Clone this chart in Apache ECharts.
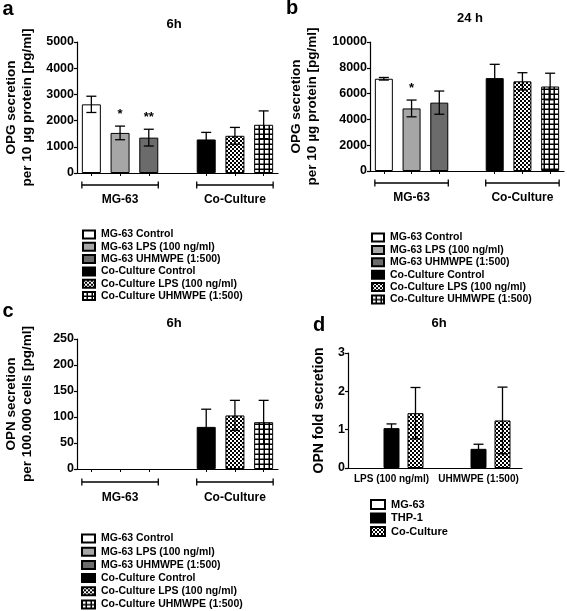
<!DOCTYPE html>
<html>
<head>
<meta charset="utf-8">
<script src="https://cdn.jsdelivr.net/npm/echarts@6/dist/echarts.min.js"></script>
<style>
html,body{margin:0;padding:0;background:#fff;}
#c{width:567px;height:611px;}
</style>
</head>
<body>
<div id="c"></div>
<script>
// ---------- data ----------
const slotCategories = ['MG-63 Control', 'MG-63 LPS (100 ng/ml)', 'MG-63 UHMWPE (1:500)', '', 'Co-Culture Control', 'Co-Culture LPS (100 ng/ml)', 'Co-Culture UHMWPE (1:500)'];
const seriesNames = ['MG-63 Control', 'MG-63 LPS (100 ng/ml)', 'MG-63 UHMWPE (1:500)', 'Co-Culture Control', 'Co-Culture LPS (100 ng/ml)', 'Co-Culture UHMWPE (1:500)'];
const groupLabels = ['MG-63', 'Co-Culture'];

const opg6hValues = [2620, 1530, 1350, 1280, 1420, 1840];
const opg6hErrors = [310, 260, 320, 270, 320, 530];
const opg6hSig = ['', '*', '**', '', '', ''];

const opg24hValues = [7150, 4850, 5300, 7200, 6950, 6550];
const opg24hErrors = [100, 650, 900, 1070, 670, 1030];
const opg24hSig = ['', '*', '', '', '', ''];

const opn6hValues = [null, null, null, 81, 103, 90];
const opn6hErrors = [0, 0, 0, 34, 29, 42];
const opn6hSig = ['', '', '', '', '', ''];

const foldCategories = ['LPS (100 ng/ml)', 'UHMWPE (1:500)'];
const foldNames = ['MG-63', 'THP-1', 'Co-Culture'];
const foldMG63 = [null, null];
const foldTHP1 = [1.04, 0.50];
const foldTHP1Err = [0.11, 0.12];
const foldCo = [1.43, 1.24];
const foldCoErr = [0.67, 0.87];

const yTicksA = {min: 0, max: 5000, interval: 1000};
const yTicksB = {min: 0, max: 10000, interval: 2000};
const yTicksC = {min: 0, max: 250, interval: 50};
const yTicksD = {min: 0, max: 3, interval: 1};

// ---------- styles ----------
const FONT = 'Liberation Sans, Arial, Helvetica, sans-serif';
function checker() {
  const c = document.createElement('canvas'); c.width = c.height = 4;
  const g = c.getContext('2d');
  g.fillStyle = '#fff'; g.fillRect(0, 0, 4, 4);
  g.fillStyle = '#000'; g.fillRect(0, 0, 2, 2); g.fillRect(2, 2, 2, 2);
  return c;
}
function gridPat() {
  const c = document.createElement('canvas'); c.width = c.height = 5;
  const g = c.getContext('2d');
  g.fillStyle = '#000'; g.fillRect(0, 0, 5, 5);
  g.fillStyle = '#fff'; g.fillRect(0, 0, 3.5, 3.5);
  return c;
}
const CHECK = {image: checker(), repeat: 'repeat'};
const GRIDP = {image: gridPat(), repeat: 'repeat'};
const fills = ['#ffffff', '#a6a6a6', '#6b6b6b', '#000000', CHECK, GRIDP];
const foldFills = ['#ffffff', '#000000', CHECK];
const slotOf = i => (i < 3 ? i : i + 1);

const chart = echarts.init(document.getElementById('c'), null, {renderer: 'canvas'});

const grids = [
  {left: 77, top: 42, width: 201, height: 131},
  {left: 370, top: 42, width: 194, height: 129},
  {left: 77, top: 339, width: 201, height: 130},
  {left: 348, top: 353, width: 174, height: 115}
];

function yAxis(gi, ticks, name, gap, fs) {
  return Object.assign({
    type: 'value', gridIndex: gi,
    axisLine: {show: true, lineStyle: {color: '#000', width: 1.2}},
    axisTick: {show: true, length: 3, lineStyle: {color: '#000', width: 1.2}},
    axisLabel: {color: '#000', fontWeight: 'bold', fontSize: 12.5, fontFamily: FONT, margin: 3, formatter: v => String(v)},
    splitLine: {show: false},
    name: name, nameLocation: 'middle', nameRotate: 90, nameGap: gap,
    nameTextStyle: {color: '#000', fontWeight: 'bold', fontSize: fs, fontFamily: FONT, lineHeight: 16, align: 'center'}
  }, ticks);
}
function slotXAxis(gi) {
  return {
    type: 'category', gridIndex: gi, data: slotCategories,
    axisLine: {show: true, lineStyle: {color: '#000', width: 1.2}},
    axisTick: {show: true, length: 3, alignWithLabel: true, interval: (idx) => idx !== 3, lineStyle: {color: '#000', width: 1}},
    axisLabel: {show: false}
  };
}

const series = [];
function addSlotPanel(gi, values, errors, sig, bw) {
  values.forEach((v, i) => {
    const data = slotCategories.map(() => '-');
    if (v !== null) data[slotOf(i)] = v;
    series.push({
      type: 'bar', name: seriesNames[i], xAxisIndex: gi, yAxisIndex: gi,
      data: data, barWidth: bw, barGap: '-100%',
      itemStyle: {color: fills[i], borderColor: '#000', borderWidth: 1},
      emphasis: {disabled: true}, animation: false
    });
  });
  const errData = [];
  values.forEach((v, i) => { if (v !== null) errData.push([slotOf(i), v, errors[i], i]); });
  series.push({
    type: 'custom', xAxisIndex: gi, yAxisIndex: gi, z: 5, animation: false,
    data: errData,
    renderItem: (params, api) => errRender(api, 0, sig[api.value(3)])
  });
}
function errRender(api, dx, sigText) {
  const x = api.value(0), v = api.value(1), e = api.value(2);
  const top = api.coord([x, v + e]);
  const bot = api.coord([x, Math.max(0, v - e)]);
  const cx = top[0] + dx, cw = 5;
  const st = {stroke: '#000', lineWidth: 1.3};
  const children = [
    {type: 'line', shape: {x1: cx, y1: bot[1], x2: cx, y2: top[1]}, style: st},
    {type: 'line', shape: {x1: cx - cw, y1: top[1], x2: cx + cw, y2: top[1]}, style: st},
    {type: 'line', shape: {x1: cx - cw, y1: bot[1], x2: cx + cw, y2: bot[1]}, style: st}
  ];
  if (sigText) {
    children.push({type: 'text', x: cx, y: top[1] - 5,
      style: {text: sigText, fill: '#000', font: 'bold 13px ' + FONT, align: 'center', verticalAlign: 'bottom'}});
  }
  return {type: 'group', children: children};
}

addSlotPanel(0, opg6hValues, opg6hErrors, opg6hSig, 19);
addSlotPanel(1, opg24hValues, opg24hErrors, opg24hSig, 18);
addSlotPanel(2, opn6hValues, opn6hErrors, opn6hSig, 19);

// panel d
const FOLD_BW = 16, FOLD_GAP = 8;
[foldMG63, foldTHP1, foldCo].forEach((vals, i) => {
  series.push({
    type: 'bar', name: foldNames[i], xAxisIndex: 3, yAxisIndex: 3,
    data: vals.map(v => (v === null ? '-' : v)), barWidth: FOLD_BW, barGap: (FOLD_GAP / FOLD_BW * 100) + '%',
    itemStyle: {color: foldFills[i], borderColor: '#000', borderWidth: 1},
    emphasis: {disabled: true}, animation: false
  });
});
[[foldTHP1, foldTHP1Err, 1], [foldCo, foldCoErr, 2]].forEach(([vals, errs, si]) => {
  const dx = (si - 1) * (FOLD_BW + FOLD_GAP);
  series.push({
    type: 'custom', xAxisIndex: 3, yAxisIndex: 3, z: 5, animation: false,
    data: vals.map((v, k) => [k, v, errs[k]]),
    renderItem: (params, api) => errRender(api, dx, '')
  });
});

function legendAt(left, top, names, gap, fs, iw, ih) {
  return {
    orient: 'vertical', left: left, top: top, data: names, selectedMode: false,
    padding: 0, height: 120,
    icon: 'rect', itemWidth: iw, itemHeight: ih, itemGap: gap,
    textStyle: {color: '#000', fontWeight: 'bold', fontSize: fs, fontFamily: FONT, padding: [0, 0, 0, 1]}
  };
}

const txt = (x, y, t, fs, align) => ({type: 'text', x: x, y: y, silent: true,
  style: {text: t, fill: '#000', font: 'bold ' + fs + 'px ' + FONT, align: align || 'center', verticalAlign: 'middle'}});

chart.setOption({
  animation: false,
  grid: grids,
  xAxis: [slotXAxis(0), slotXAxis(1), slotXAxis(2), {
    type: 'category', gridIndex: 3, data: foldCategories,
    axisLine: {show: true, lineStyle: {color: '#000', width: 1.2}},
    axisTick: {show: false},
    axisLabel: {color: '#000', fontWeight: 'bold', fontSize: 10, fontFamily: FONT, margin: 6, interval: 0}
  }],
  yAxis: [
    yAxis(0, yTicksA, 'OPG secretion\nper 10 µg protein [pg/ml]', 42, 13.5),
    yAxis(1, yTicksB, 'OPG secretion\nper 10 µg protein [pg/ml]', 50, 13.5),
    yAxis(2, yTicksC, 'OPN secretion\nper 100.000 cells [pg/ml]', 42, 13.5),
    yAxis(3, yTicksD, 'OPN fold secretion', 21, 14)
  ],
  legend: [
    legendAt(82, 229, seriesNames, 1.3, 10.5, 12, 8),
    legendAt(371, 232, seriesNames, 1.4, 10.5, 12, 8),
    legendAt(81, 533, seriesNames, 2.2, 10.5, 13, 8),
    legendAt(370, 499, foldNames, 2.5, 11, 14, 9)
  ],
  series: series
});

// brackets & text annotations
const graphics = [
  txt(8, 9, 'a', 20), txt(292, 8, 'b', 20), txt(8, 311, 'c', 20), txt(319, 325, 'd', 20),
  txt(174, 24, '6h', 13), txt(470, 18, '24 h', 13), txt(174, 323, '6h', 13), txt(439, 323, '6h', 13)
];
[[0, 19, 12, 15], [1, 18, 12, 15], [2, 19, 13, 16]].forEach(([gi, bw, drop, ldrop]) => {
  [[0, 2], [4, 6]].forEach(([s, e], k) => {
    const p1 = chart.convertToPixel({xAxisIndex: gi, yAxisIndex: gi}, [s, 0]);
    const p2 = chart.convertToPixel({xAxisIndex: gi, yAxisIndex: gi}, [e, 0]);
    const x1 = p1[0] - bw / 2, x2 = p2[0] + bw / 2, y = p1[1] + drop;
    const st = {stroke: '#000', lineWidth: 1.3};
    graphics.push({type: 'line', silent: true, shape: {x1: x1, y1: y, x2: x2, y2: y}, style: st});
    graphics.push({type: 'line', silent: true, shape: {x1: x1, y1: y - 3.5, x2: x1, y2: y + 3.5}, style: st});
    graphics.push({type: 'line', silent: true, shape: {x1: x2, y1: y - 3.5, x2: x2, y2: y + 3.5}, style: st});
    graphics.push(txt((x1 + x2) / 2, y + ldrop, groupLabels[k], 12));
  });
});
chart.setOption({graphic: graphics});
</script>
</body>
</html>
